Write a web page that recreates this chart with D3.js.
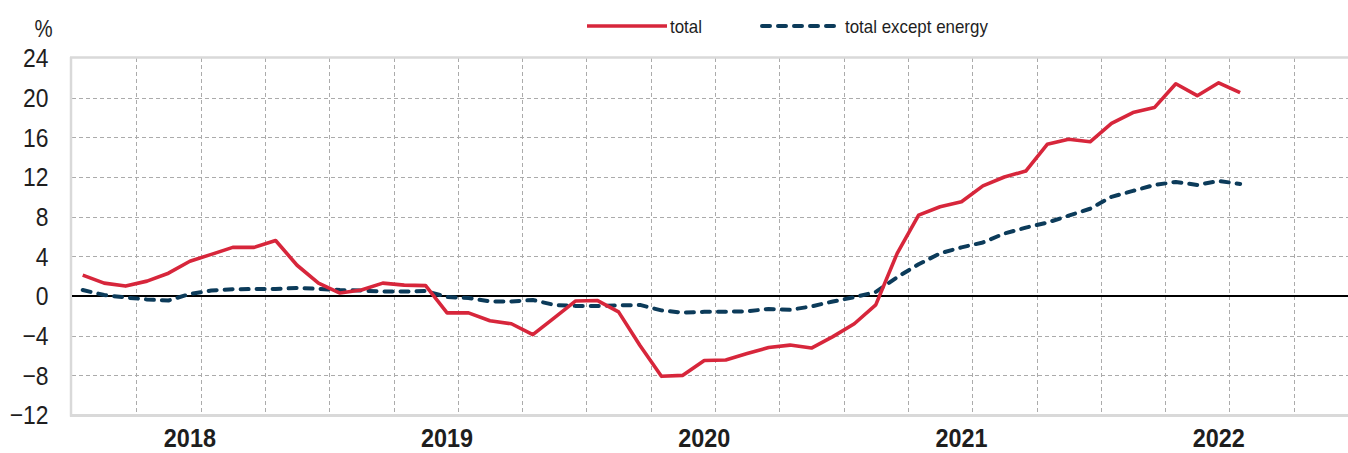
<!DOCTYPE html>
<html><head><meta charset="utf-8">
<script src="https://cdn.jsdelivr.net/npm/d3@7"></script>
<style>html,body{margin:0;padding:0;background:#fff;overflow:hidden;} svg{display:block;}</style>
</head><body><svg id="chart" width="1348" height="453"></svg>
<script>
// ---- data ----
const months = [
  "2017-08","2017-09","2017-10","2017-11","2017-12",
  "2018-01","2018-02","2018-03","2018-04","2018-05","2018-06","2018-07","2018-08","2018-09","2018-10","2018-11","2018-12",
  "2019-01","2019-02","2019-03","2019-04","2019-05","2019-06","2019-07","2019-08","2019-09","2019-10","2019-11","2019-12",
  "2020-01","2020-02","2020-03","2020-04","2020-05","2020-06","2020-07","2020-08","2020-09","2020-10","2020-11","2020-12",
  "2021-01","2021-02","2021-03","2021-04","2021-05","2021-06","2021-07","2021-08","2021-09","2021-10","2021-11","2021-12",
  "2022-01","2022-02","2022-03","2022-04","2022-05","2022-06","2022-07"
];
const total = [2.1,1.3,1.0,1.5,2.3,3.5,4.2,4.9,4.9,5.6,3.1,1.3,0.3,0.6,1.3,1.1,1.05,
  -1.7,-1.7,-2.5,-2.8,-3.9,-2.2,-0.5,-0.45,-1.6,-5.0,-8.1,-8.0,
  -6.5,-6.45,-5.8,-5.2,-4.95,-5.25,-4.1,-2.8,-0.9,4.3,8.15,9.0,
  9.5,11.1,12.0,12.6,15.3,15.8,15.55,17.4,18.5,19.0,21.4,20.2,
  21.5,20.5];
const exEnergy = [0.6,0.1,-0.15,-0.35,-0.45,0.2,0.55,0.68,0.7,0.7,0.82,0.72,0.6,0.55,0.45,0.45,0.5,
  -0.1,-0.2,-0.55,-0.55,-0.4,-0.9,-1.0,-1.0,-0.95,-0.9,-1.45,-1.68,
  -1.6,-1.58,-1.55,-1.3,-1.4,-1.05,-0.55,-0.12,0.4,1.9,3.2,4.3,
  4.9,5.4,6.3,6.9,7.4,8.1,8.8,10.0,10.6,11.2,11.5,11.2,
  11.6,11.3];
const yTicks = [-12,-8,-4,0,4,8,12,16,20,24];
const yearLabels = ["2018","2019","2020","2021","2022"];
const seriesNames = ["total","total except energy"];
const unitLabel = "%";

// ---- layout ----
const svg = d3.select("#chart");
const P = {left:72, top:58, bottom:415, right:1358};
const RED = "#d7263b", BLUE = "#0c3b5a", GRID = "#ababab", FRAME = "#d9d9d9", TXT = "#1e1e1e";
const FONT = "'Liberation Sans', Arial, sans-serif";

const x = d3.scaleBand().domain(months).range([P.left, P.right]).padding(0);
const y = d3.scaleLinear().domain([-12, 24]).range([P.bottom, P.top]);
const cx = m => x(m) + x.bandwidth() / 2;

// horizontal grid
svg.append("g").selectAll("line").data(yTicks.filter(t => t !== 0 && t !== -12 && t !== 24))
  .join("line")
  .attr("x1", P.left).attr("x2", 1348)
  .attr("y1", d => Math.round(y(d)) + 0.5).attr("y2", d => Math.round(y(d)) + 0.5)
  .attr("stroke", GRID).attr("stroke-width", 1).attr("stroke-dasharray", "4,3");

// vertical grid every 3 months
svg.append("g").selectAll("line").data(months.filter((m, i) => i > 0 && i % 3 === 0))
  .join("line")
  .attr("x1", d => Math.round(x(d)) + 0.5).attr("x2", d => Math.round(x(d)) + 0.5)
  .attr("y1", P.top).attr("y2", P.bottom)
  .attr("stroke", GRID).attr("stroke-width", 1).attr("stroke-dasharray", "4,3");

// frame (left, top, bottom)
svg.append("line").attr("x1", P.left - 1).attr("x2", P.left - 1).attr("y1", P.top - 1).attr("y2", P.bottom + 1.5)
  .attr("stroke", FRAME).attr("stroke-width", 2.5);
svg.append("line").attr("x1", P.left - 2).attr("x2", 1348).attr("y1", P.top - 0.5).attr("y2", P.top - 0.5)
  .attr("stroke", FRAME).attr("stroke-width", 2.5);
svg.append("line").attr("x1", P.left - 2).attr("x2", 1348).attr("y1", P.bottom + 0.5).attr("y2", P.bottom + 0.5)
  .attr("stroke", FRAME).attr("stroke-width", 3);

// zero line
svg.append("line").attr("x1", P.left).attr("x2", 1348).attr("y1", y(0)).attr("y2", y(0))
  .attr("stroke", "#000").attr("stroke-width", 2);

// y axis labels
const SX = 0.88;
const yAxis = svg.append("g").attr("transform", `translate(${P.left},0)`)
  .call(d3.axisLeft(y).tickValues(yTicks).tickSize(0).tickPadding(0).tickFormat(d3.format("d")));
yAxis.select(".domain").remove();
yAxis.selectAll("text")
  .attr("x", -23.5 / SX).attr("dy", "0.34em")
  .attr("transform", `scale(${SX},1)`)
  .style("font-family", FONT).style("font-size", "26px").attr("fill", TXT);

// unit label
svg.append("text").attr("transform", `translate(43.5,37) scale(0.85,1)`)
  .attr("text-anchor", "middle").style("font-family", FONT).style("font-size", "24px")
  .attr("fill", TXT).text(unitLabel);

// year labels
svg.append("g").selectAll("text").data(yearLabels).join("text")
  .attr("transform", d => `translate(${cx(d + "-01")},447) scale(0.9,1)`)
  .attr("text-anchor", "middle").style("font-family", FONT).style("font-size", "26px")
  .style("font-weight", "bold").attr("fill", TXT).text(d => d);

// lines
const dataMonths = months.slice(0, total.length);
const lineGen = d3.line().x(d => cx(d.m)).y(d => y(d.v));
svg.append("path")
  .attr("d", lineGen(dataMonths.map((m, i) => ({m, v: exEnergy[i]}))))
  .attr("fill", "none").attr("stroke", BLUE).attr("stroke-width", 4)
  .attr("stroke-dasharray", "8,8").attr("stroke-linecap", "round").attr("stroke-linejoin", "round");
svg.append("path")
  .attr("d", lineGen(dataMonths.map((m, i) => ({m, v: total[i]}))))
  .attr("fill", "none").attr("stroke", RED).attr("stroke-width", 3.6)
  .attr("stroke-linejoin", "round");

// legend
const lg = svg.append("g");
lg.append("line").attr("x1", 587).attr("x2", 667).attr("y1", 26).attr("y2", 26)
  .attr("stroke", RED).attr("stroke-width", 3.6);
lg.append("text").attr("transform", "translate(670,33) scale(0.94,1)")
  .style("font-family", FONT).style("font-size", "18px").attr("fill", TXT).text(seriesNames[0]);
lg.append("line").attr("x1", 762).attr("x2", 836).attr("y1", 26).attr("y2", 26)
  .attr("stroke", BLUE).attr("stroke-width", 4).attr("stroke-dasharray", "8,8").attr("stroke-linecap", "round");
lg.append("text").attr("transform", "translate(845,33) scale(0.94,1)")
  .style("font-family", FONT).style("font-size", "18px").attr("fill", TXT).text(seriesNames[1]);
</script>
</body></html>
